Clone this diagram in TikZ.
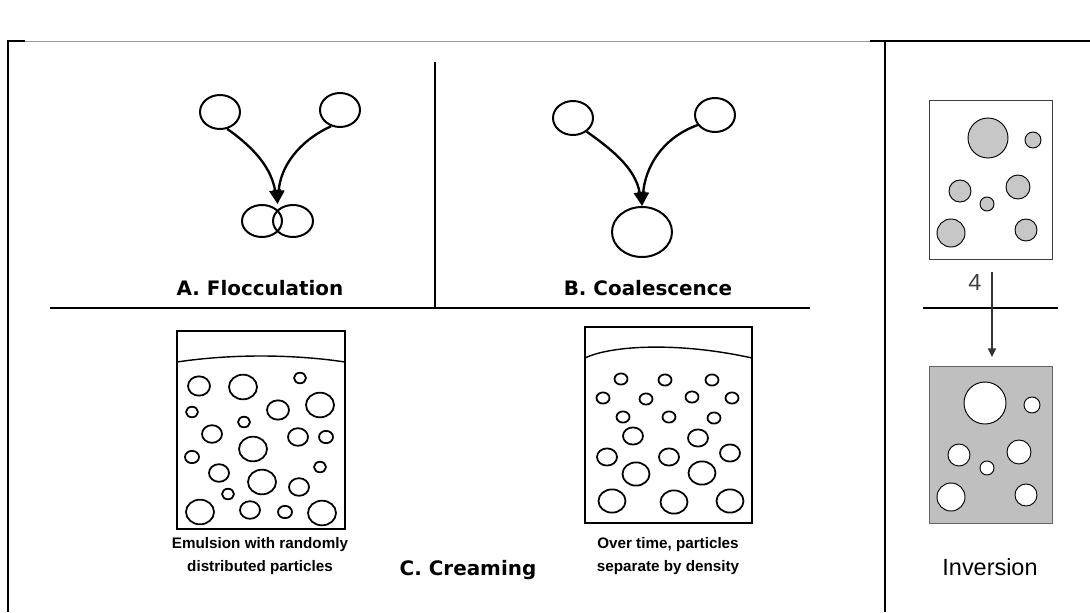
\documentclass[tikz,border=0pt]{standalone}
\usepackage{fontspec}
\setmainfont{Liberation Sans}
\newfontfamily\wideface{DejaVu Sans}
\usetikzlibrary{arrows.meta,shapes.geometric}

\begin{document}
\begin{tikzpicture}[x=0.03cm, y=-0.03cm,
		drop/.style={ellipse, draw, line width=1.7pt, inner sep=0pt, minimum width=1.2cm, minimum height=1.02cm},
		flow/.style={line width=2pt, -{Triangle[length=0.42cm, width=0.34cm]}},
		title/.style={font=\wideface\bfseries\fontsize{17}{19}\selectfont},
		caption/.style={font=\bfseries\fontsize{13}{19}\selectfont, align=center},
	]
		%%%%% FRAME %%%%%
		\useasboundingbox (0,0) rectangle (1090,612);
		\draw[line width=0.6pt, color=black!40] (8,41) -- (870,41);
		\draw[line width=1.2pt] (870,41) -- (1090,41);
		\draw[line width=1.6pt] (25,41) -- (8,41) -- (8,612);
		\draw[line width=1.2pt] (885,41) -- (885,612);
		\draw[line width=1.6pt] (435,62) -- (435,307);
		\draw[line width=1.6pt] (50,308) -- (810,308);
		
		%%%%% A %%%%%
		\node[drop] (fla) at (220,112) {};
		\node[drop] (flb) at (340,110) {};
		\node[drop, minimum height=0.96cm] (flc) at (262,221) {};
		\node[drop, minimum height=0.96cm] (fld) at (293,221) {};
		\coordinate (flm) at (277.5,204);
		\draw[flow] (fla.-67) to[out=-35, in=100] (flm);
		\draw[flow] (flb.-119) to[out=205, in=85] (flm);
		\node[title] (fltxt) at (260,288) {A. Flocculation};
		
		%%%%% B %%%%%
		\node[drop] (coa) at (573,118) {};
		\node[drop] (cob) at (715,115) {};
		\node[drop, minimum width=1.8cm, minimum height=1.5cm] (coc) at (642,232) {};
		\draw[flow] (coa.-45) to[out=-35, in=100] (coc.north);
		\draw[flow] (cob.-150) to[out=200, in=85] (coc.north);
		\node[title] (cotxt) at (648,288) {B. Coalescence};
		
		%%%%% C %%%%%
		\draw[line width=1.7pt] (177,331) rectangle (345,529);
		\draw[line width=1.2pt] (177,362) .. controls (230,354) and (292,354) .. (345,362);
		\foreach \x/\y/\r in {199/386/11, 243/387/14, 300/378/6, 320/405/14, 278/410/11,
			192/412/6, 244/422/6, 212/434/10, 298/437/10, 326/437/7, 253/449/14,
			192/457/7, 219/473/10, 320/467/6, 262/482/14, 299/487/10, 228/494/6,
			200/512/14, 250/510/10, 285/512/7, 322/513/14}
			\draw[line width=1.5pt] (\x,\y) ellipse ({\r} and {0.88*\r});
		\node[caption] (emtxt) at (260,556) {Emulsion with randomly\\distributed particles};
		
		\draw[line width=1.7pt] (585,327) rectangle (752,523);
		\draw[line width=1.2pt] (585,358) .. controls (612,345) and (680,342) .. (752,358);
		\foreach \x/\y/\r in {621/379/6.5, 665/380/6.5, 712/380/6.5, 603/398/6.5, 646/399/6.5,
			692/397/6.5, 732/398/6.5, 623/417/6.5, 669/417/6.5, 714/418/6.5,
			633/436/10, 698/438/10, 607/457/10, 669/457/10, 730/453/10,
			636/474/13.5, 702/473/13.5, 612/501/13.5, 674/502/13.5, 730/501/13.5}
			\draw[line width=1.5pt] (\x,\y) ellipse ({\r} and {0.86*\r});
		\node[caption] (ovtxt) at (668,556) {Over time, particles\\separate by density};
		\node[title] (crtxt) at (468,570) {C. Creaming};
		
		%%%%% INVERSION %%%%%
		\draw[line width=0.7pt, color=black!75, fill=white] (929,100) rectangle (1052,259);
		\foreach \x/\y/\r in {988/138/20, 1033/140/8, 960/191/11, 1018/187/12, 987/204/7, 951/233/14, 1026/230/11}
			\draw[line width=0.8pt, fill=black!22] (\x,\y) circle[radius=\r];
		\node[font=\fontsize{20}{24}\selectfont, color=black!75] (stepfour) at (975,282) {4};
		\draw[line width=2.5pt] (923,308) -- (1058,308);
		\coordinate (invtop) at (992,272);
		\coordinate (invbot) at (992,357);
		\draw[line width=1.3pt, color=black!80, -{Triangle[length=0.26cm, width=0.24cm]}] (invtop) -- (invbot);
		\draw[line width=0.7pt, color=black!60, fill=black!25] (929,366) rectangle (1052,523);
		\foreach \x/\y/\r in {985/403/21, 1032/405/8, 959/455/11, 1019/452/12, 987/468/7, 951/497/14, 1026/495/11}
			\draw[line width=0.8pt, fill=white] (\x,\y) circle[radius=\r];
		\node[font=\fontsize{20}{24}\selectfont] (invtxt) at (990,567) {Inversion};
		
	\end{tikzpicture}
\end{document}
